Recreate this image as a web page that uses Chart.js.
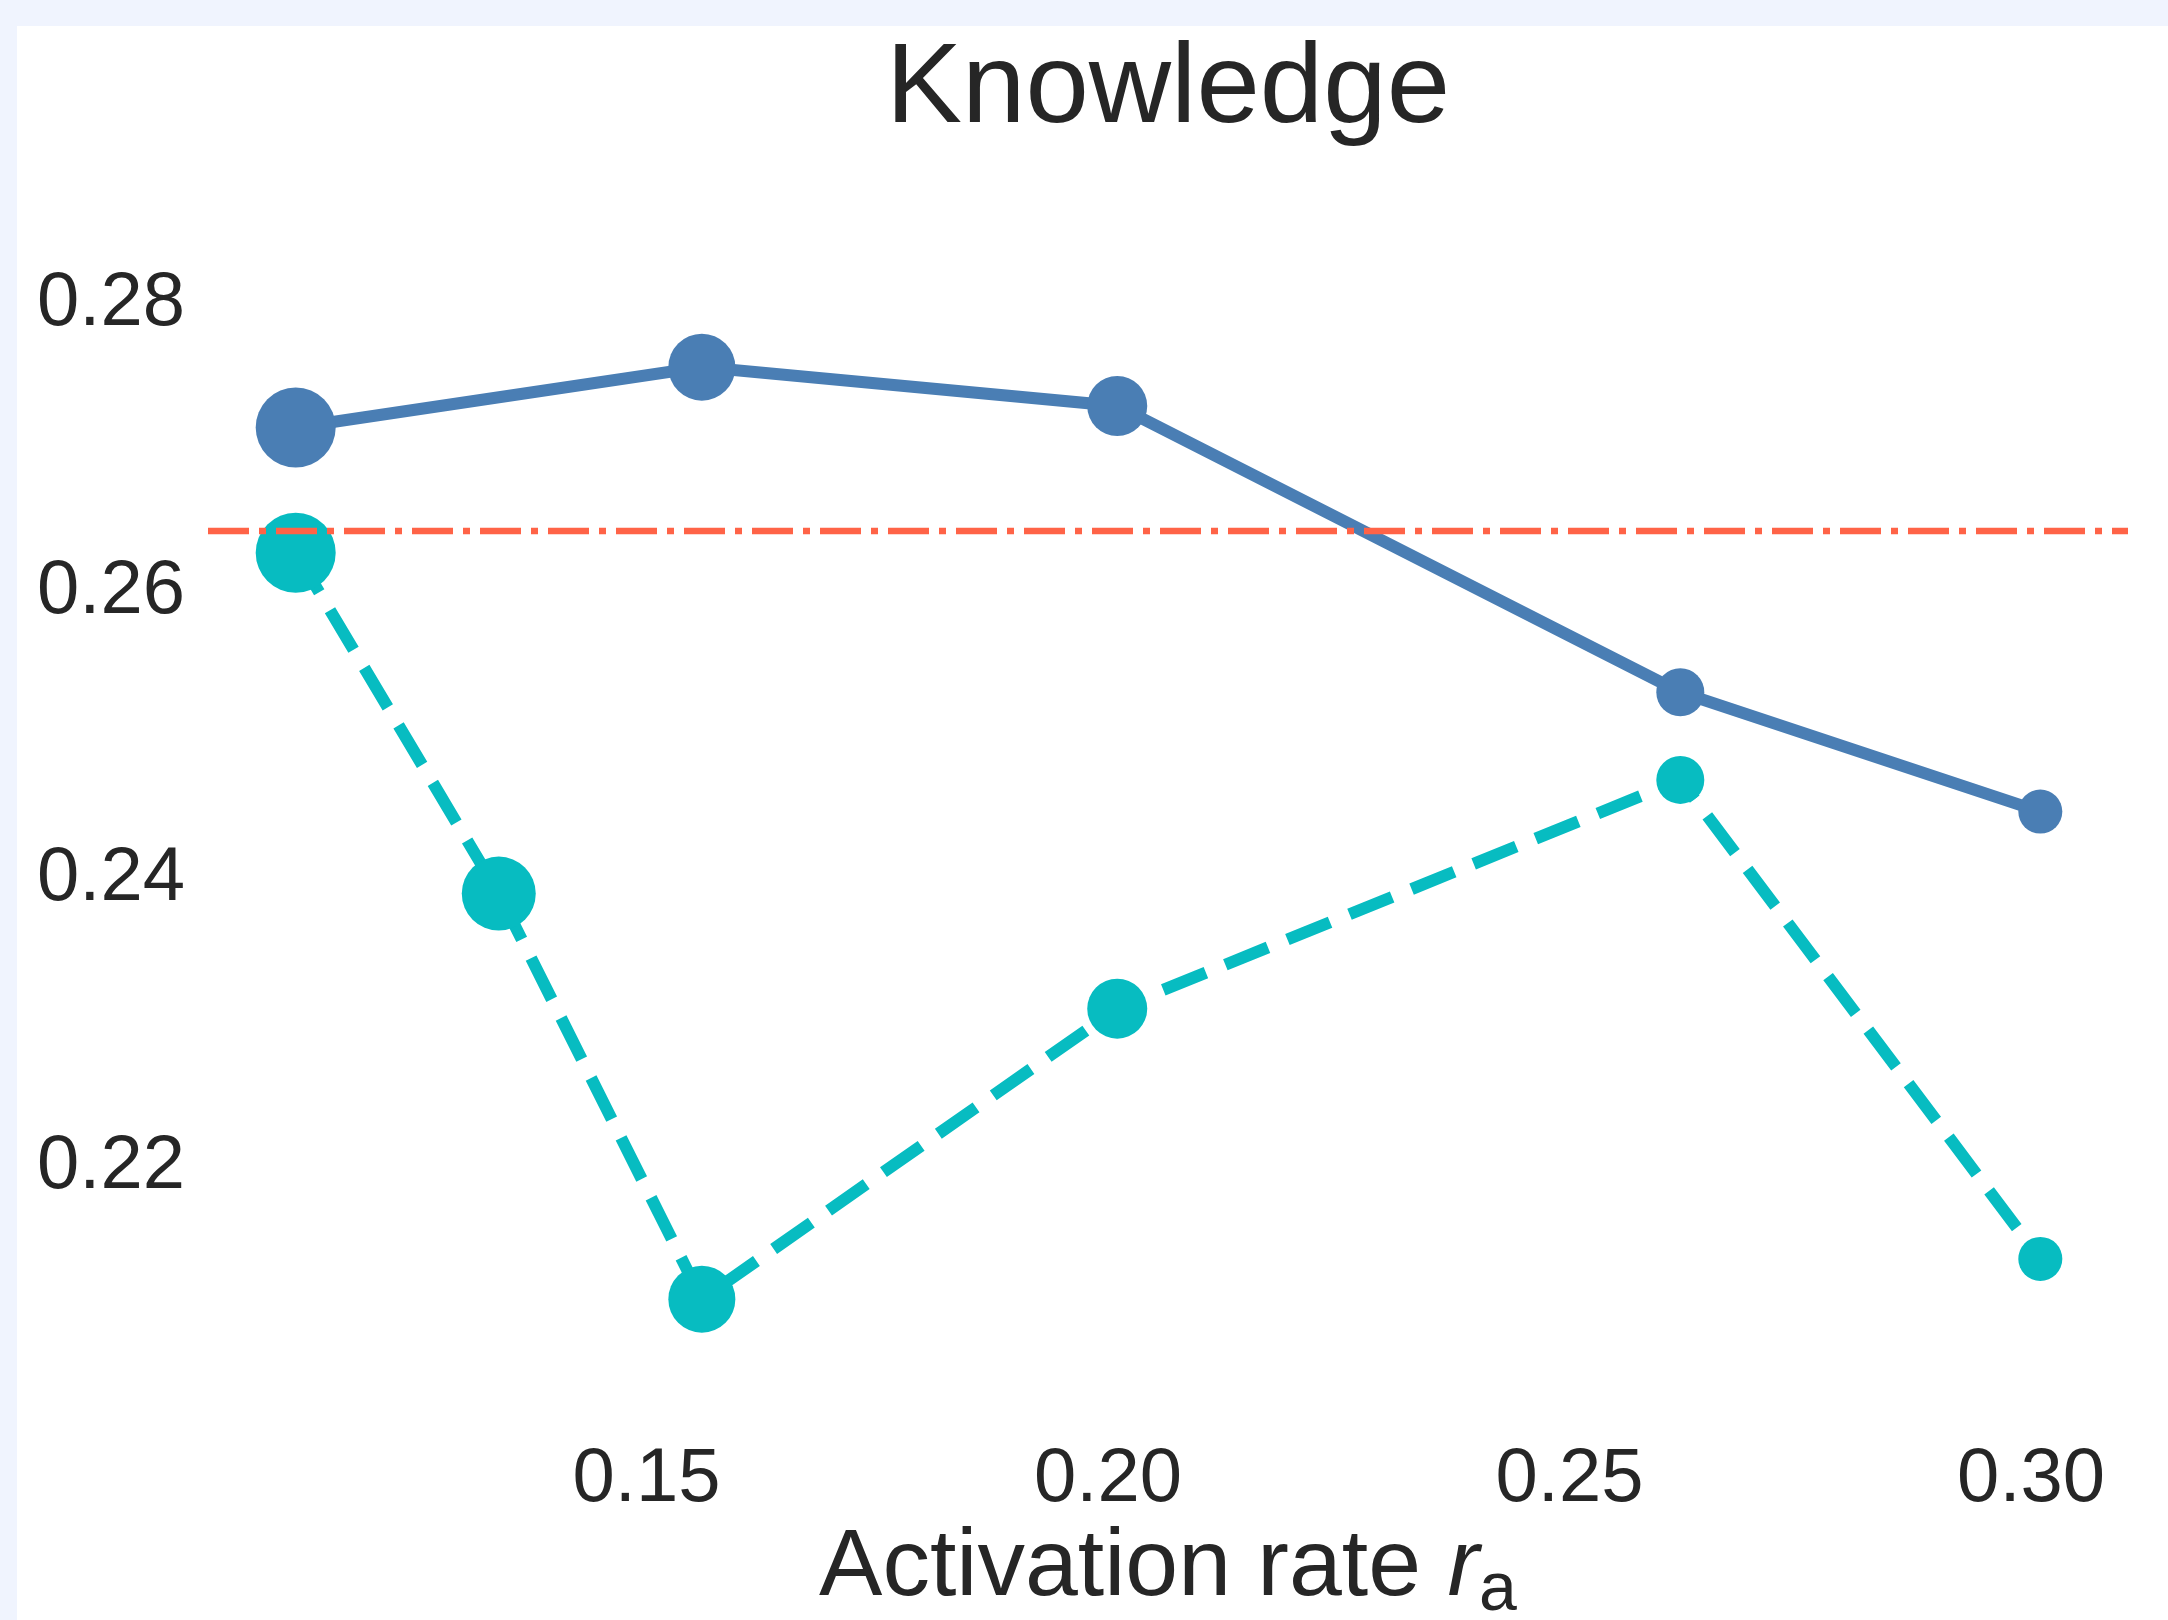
<!DOCTYPE html>
<html>
<head>
<meta charset="utf-8">
<title>Knowledge</title>
<script src="https://cdn.jsdelivr.net/npm/chart.js@4.4.0/dist/chart.umd.min.js"></script>
<style>
	html, body { margin: 0; padding: 0; background: #f0f4fe; overflow: hidden; }
	#panel { position: absolute; left: 17px; top: 26px; width: 2151px; height: 1594px; background: #fff; }
</style>
</head>
<body>
<div id="panel"><canvas id="chart"></canvas></div>
<script>
// values
const activationRates = [0.112, 0.134, 0.156, 0.201, 0.262, 0.301];
const solidScores = [0.2712, null, 0.2754, 0.2727, 0.2528, 0.2445];
const dashedScores = [0.2625, 0.2388, 0.2106, 0.2308, 0.2467, 0.2134];
const referenceScore = 0.264;
const xTicks = [0.15, 0.20, 0.25, 0.30];
const yTicks = [0.22, 0.24, 0.26, 0.28];

// markers get smaller as the rate grows
const markerRadius = [40, 37, 33.5, 30, 24, 22];

const textColor = '#262626';
const fontFamily = '"Liberation Sans", Arial, sans-serif';
Chart.defaults.font.family = fontFamily;
Chart.defaults.color = textColor;

function points(values) {
	return activationRates.map((x, i) => ({ x: x, y: values[i] }));
}

// dash-dot horizontal reference line across the plot
const referenceLine = {
	id: 'referenceLine',
	afterDatasetsDraw(chart) {
		const ctx = chart.ctx;
		const area = chart.chartArea;
		const y = chart.scales.y.getPixelForValue(referenceScore);
		ctx.save();
		ctx.strokeStyle = '#ff6347';
		ctx.lineWidth = 6.5;
		ctx.lineCap = 'butt';
		ctx.setLineDash([41, 10, 7, 10]);
		ctx.beginPath();
		ctx.moveTo(area.left, y);
		ctx.lineTo(area.right, y);
		ctx.stroke();
		ctx.restore();
	}
};

// x axis title with italic r and subscript a
const xTitle = {
	id: 'xTitle',
	afterDraw(chart) {
		const ctx = chart.ctx;
		const area = chart.chartArea;
		const size = 95;
		const subSize = Math.round(size * 0.72);
		const main = 'Activation rate ';
		ctx.save();
		ctx.fillStyle = textColor;
		ctx.textBaseline = 'alphabetic';
		ctx.textAlign = 'left';
		ctx.font = size + 'px ' + fontFamily;
		const w1 = ctx.measureText(main).width;
		ctx.font = 'italic ' + size + 'px ' + fontFamily;
		const w2 = ctx.measureText('r').width;
		ctx.font = subSize + 'px ' + fontFamily;
		const w3 = ctx.measureText('a').width;
		const baseline = 1569;
		let x = (area.left + area.right) / 2 - (w1 + w2 + w3) / 2;
		ctx.font = size + 'px ' + fontFamily;
		ctx.fillText(main, x, baseline);
		x += w1;
		ctx.font = 'italic ' + size + 'px ' + fontFamily;
		ctx.fillText('r', x, baseline);
		x += w2;
		ctx.font = subSize + 'px ' + fontFamily;
		ctx.fillText('a', x, baseline + 15);
		ctx.restore();
	}
};

let ctx = document.getElementById('chart').getContext('2d');
let chart = new Chart(ctx, {
	type: 'line',
	data: {
		datasets: [{
			label: 'solid',
			data: points(solidScores),
			borderColor: '#4a7eb4',
			backgroundColor: '#4a7eb4',
			pointBackgroundColor: '#4a7eb4',
			borderWidth: 12,
			pointRadius: markerRadius,
			pointBorderWidth: 0,
			pointHoverRadius: markerRadius,
			spanGaps: true,
			tension: 0,
			clip: false
		}, {
			label: 'dashed',
			data: points(dashedScores),
			borderColor: '#07bcc1',
			backgroundColor: '#07bcc1',
			pointBackgroundColor: '#07bcc1',
			borderWidth: 12,
			borderDash: [46, 21],
			pointRadius: markerRadius,
			pointBorderWidth: 0,
			pointHoverRadius: markerRadius,
			tension: 0,
			clip: false
		}]
	},
	options: {
		responsive: true,
		maintainAspectRatio: false,
		animation: false,
		layout: { padding: { left: 0, right: 38, top: 0, bottom: 0 } },
		plugins: {
			legend: { display: false },
			tooltip: { enabled: false },
			title: {
				display: true,
				fullSize: false,
				text: 'Knowledge',
				color: textColor,
				font: { size: 114, weight: 'normal', lineHeight: 1 },
				padding: { top: 8, bottom: 8 }
			}
		},
		scales: {
			x: {
				type: 'linear',
				min: 0.1025,
				max: 0.3105,
				grid: { display: false, drawTicks: false },
				border: { display: false },
				afterBuildTicks: s => { s.ticks = xTicks.map(v => ({ value: v })); },
				afterFit: s => { s.height = 199; },
				ticks: {
					font: { size: 76 },
					color: textColor,
					padding: 13,
					maxRotation: 0,
					autoSkip: false,
					callback: v => v.toFixed(2)
				}
			},
			y: {
				min: 0.20213,
				max: 0.29008,
				grid: { display: false, drawTicks: false },
				border: { display: false },
				afterBuildTicks: s => { s.ticks = yTicks.map(v => ({ value: v })); },
				afterFit: s => { s.width = 191; },
				ticks: {
					font: { size: 76 },
					color: textColor,
					padding: 23,
					labelOffset: 3,
					autoSkip: false,
					callback: v => v.toFixed(2)
				}
			}
		}
	},
	plugins: [referenceLine, xTitle]
});
</script>
</body>
</html>
